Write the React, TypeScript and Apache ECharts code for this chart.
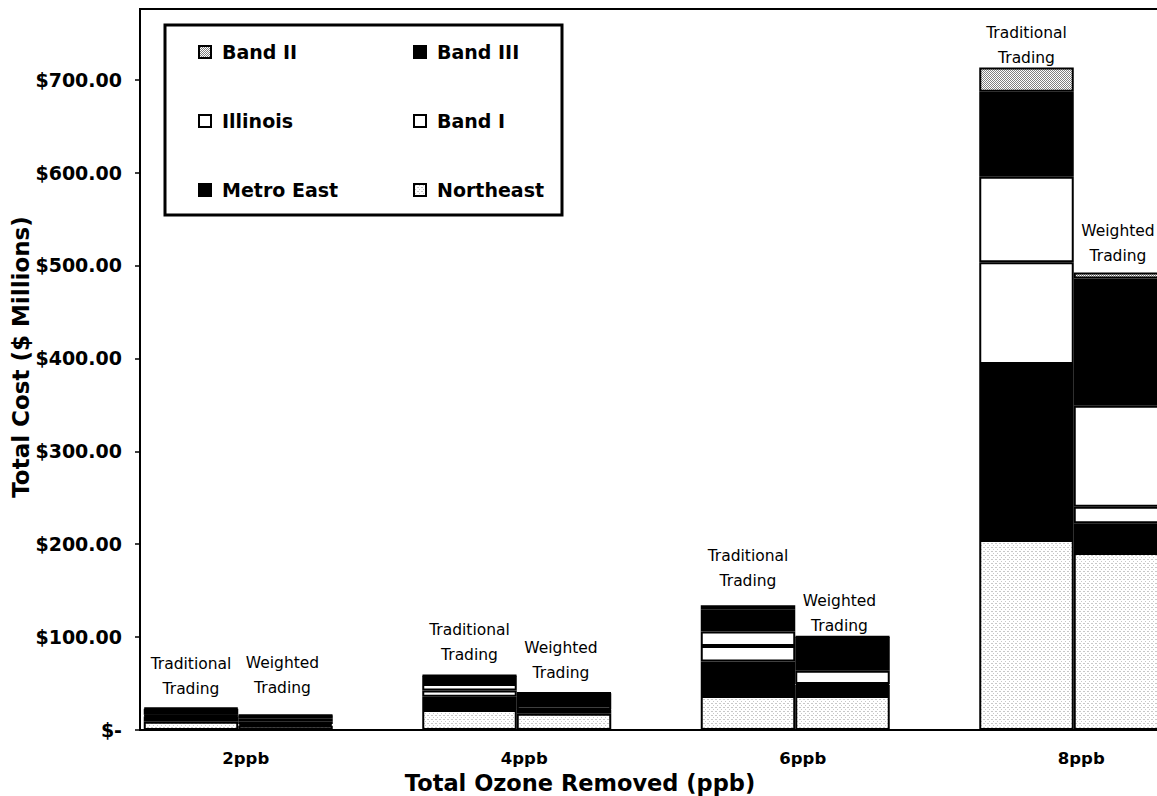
import React, { useEffect, useRef } from 'react';
import * as echarts from 'echarts';

// Ozone reduction targets on the category axis
const categories = ['2ppb', '4ppb', '6ppb', '8ppb'];

// Stack order, bottom to top
const regions = ['Northeast', 'Metro East', 'Band I', 'Illinois', 'Band III', 'Band II'];

// Traditional trading: cost by region ($ millions)
const tradNortheast = [9, 21.5, 36.6, 204.5];
const tradMetroEast = [5.5, 14.3, 37, 189.5];
const tradBandI = [1, 6.7, 16.9, 109.5];
const tradIllinois = [1, 7, 15.4, 92];
const tradBandIII = [6.5, 9, 24, 91.5];
const tradBandII = [1, 0.5, 4.5, 26];

// Weighted trading: cost by region ($ millions)
const wtdNortheast = [4.5, 17.5, 36.6, 190.5];
const wtdMetroEast = [2, 4.3, 11.8, 32];
const wtdBandI = [2.5, 0.5, 1, 17.8];
const wtdIllinois = [3, 4.7, 14.3, 108.7];
const wtdBandIII = [3.5, 12.6, 36.5, 137];
const wtdBandII = [0.5, 0.5, 0.5, 6.5];

const tradValues = [tradNortheast, tradMetroEast, tradBandI, tradIllinois, tradBandIII, tradBandII];
const wtdValues = [wtdNortheast, wtdMetroEast, wtdBandI, wtdIllinois, wtdBandIII, wtdBandII];

// Gap (px) between each stack top and its caption
const tradCaptionGap = [6, 7, 12, -3];
const wtdCaptionGap = [14, 6, -3, 4];

const stacks = [
  { id: 'trad', label: 'Traditional\nTrading', values: tradValues, gaps: tradCaptionGap, shift: 0 },
  { id: 'wtd', label: 'Weighted\nTrading', values: wtdValues, gaps: wtdCaptionGap, shift: -3 },
];

const yMax = 776;
const yInterval = 100;

const FONT = '"DejaVu Sans", "Liberation Sans", Arial, sans-serif';

// Small repeating stipple tile rendered to a data URL
function stipple(dots: number[][], dotColor: string, size = 4): string {
  const c = document.createElement('canvas');
  c.width = size;
  c.height = size;
  const ctx = c.getContext('2d')!;
  ctx.fillStyle = '#ffffff';
  ctx.fillRect(0, 0, size, size);
  ctx.fillStyle = dotColor;
  dots.forEach(([x, y]) => ctx.fillRect(x, y, 1, 1));
  return c.toDataURL();
}

export default function App() {
  const ref = useRef<HTMLDivElement>(null);

  useEffect(() => {
    const el = ref.current;
    if (!el) return;
    const chart = echarts.init(el, undefined, { renderer: 'svg' });

    const bandIIFill = {
      image: stipple([[0, 0], [2, 0], [1, 1], [3, 1], [0, 2], [2, 2], [3, 3], [1, 3]], '#808080'),
      repeat: 'repeat',
      imageWidth: 4,
      imageHeight: 4,
    };
    const northeastFill = {
      image: stipple([[1, 1], [3, 3], [0, 3]], '#c8c8c8'),
      repeat: 'repeat',
      imageWidth: 4,
      imageHeight: 4,
    };

    const fills: Record<string, any> = {
      Northeast: northeastFill,
      'Metro East': '#000000',
      'Band I': '#ffffff',
      Illinois: '#ffffff',
      'Band III': '#000000',
      'Band II': bandIIFill,
    };

    const series: any[] = [];
    stacks.forEach((s) => {
      regions.forEach((r, i) => {
        const isTop = i === regions.length - 1;
        series.push({
          type: 'bar',
          name: r,
          stack: s.id,
          data: isTop
            ? s.values[i].map((v, k) => ({ value: v, label: { distance: s.gaps[k] } }))
            : s.values[i],
          barWidth: 94.5,
          barGap: '0%',
          itemStyle: { color: fills[r], borderColor: '#000', borderWidth: 2 },
          emphasis: { disabled: true },
          label: isTop
            ? {
                show: true,
                position: 'top',
                offset: [s.shift, 0],
                formatter: () => s.label,
                color: '#000',
                fontFamily: FONT,
                fontSize: 15.5,
                lineHeight: 25,
              }
            : { show: false },
        });
      });
    });

    const legendCommon = {
      orient: 'vertical',
      top: 41,
      padding: 0,
      itemWidth: 12,
      itemHeight: 12,
      itemGap: 47,
      icon: 'rect',
      selectedMode: false,
      textStyle: {
        fontFamily: FONT,
        fontWeight: 'bold',
        fontSize: 19,
        color: '#000',
        lineHeight: 22,
        padding: [0, 0, 0, 6],
      },
    };

    const option: any = {
      animation: false,
      backgroundColor: '#ffffff',
      grid: {
        left: 99,
        width: 1114,
        top: 9,
        bottom: 66,
        containLabel: false,
        outerBoundsMode: 'none',
      },
      legend: [
        { ...legendCommon, left: 198, data: ['Band II', 'Illinois', 'Metro East'] },
        { ...legendCommon, left: 413, data: ['Band III', 'Band I', 'Northeast'] },
      ],
      xAxis: {
        type: 'category',
        data: categories,
        axisLine: { show: false },
        axisTick: { show: false },
        axisLabel: {
          color: '#000',
          fontFamily: FONT,
          fontWeight: 'bold',
          fontSize: 16.5,
          margin: 20,
          padding: [0, 0, 0, 15],
        },
      },
      yAxis: {
        type: 'value',
        min: 0,
        max: yMax,
        interval: yInterval,
        offset: -41,
        axisLine: { show: true, lineStyle: { color: '#000', width: 2 } },
        axisTick: { show: true, length: 5, lineStyle: { color: '#000', width: 1.5 } },
        splitLine: { show: false },
        axisLabel: {
          showMaxLabel: false,
          margin: 18,
          color: '#000',
          fontFamily: FONT,
          fontWeight: 'bold',
          fontSize: 19,
          formatter: (v: number) => (v === 0 ? '$-' : v % yInterval === 0 ? '$' + v.toFixed(2) : ''),
        },
      },
      series,
      graphic: [
        {
          type: 'rect',
          silent: true,
          z: 100,
          shape: { x: 140, y: 9, width: 1100, height: 721 },
          style: { fill: 'none', stroke: '#000', lineWidth: 2 },
        },
        {
          type: 'rect',
          silent: true,
          z: 100,
          shape: { x: 165, y: 25, width: 397, height: 190 },
          style: { fill: 'none', stroke: '#000', lineWidth: 3 },
        },
        {
          type: 'text',
          silent: true,
          z: 100,
          x: 21,
          y: 357,
          rotation: Math.PI / 2,
          style: {
            text: 'Total Cost ($ Millions)',
            fontFamily: FONT,
            fontWeight: 'bold',
            fontSize: 23,
            fill: '#000',
            align: 'center',
            verticalAlign: 'middle',
            textAlign: 'center',
            textVerticalAlign: 'middle',
          },
        },
        {
          type: 'text',
          silent: true,
          z: 100,
          x: 580,
          y: 783,
          style: {
            text: 'Total Ozone Removed (ppb)',
            fontFamily: FONT,
            fontWeight: 'bold',
            fontSize: 22.5,
            fill: '#000',
            align: 'center',
            verticalAlign: 'middle',
            textAlign: 'center',
            textVerticalAlign: 'middle',
          },
        },
      ],
    };

    chart.setOption(option);
    return () => chart.dispose();
  }, []);

  return (
    <div
      ref={ref}
      style={{ position: 'absolute', left: 0, top: 0, width: 1157, height: 796, background: '#fff' }}
    />
  );
}
